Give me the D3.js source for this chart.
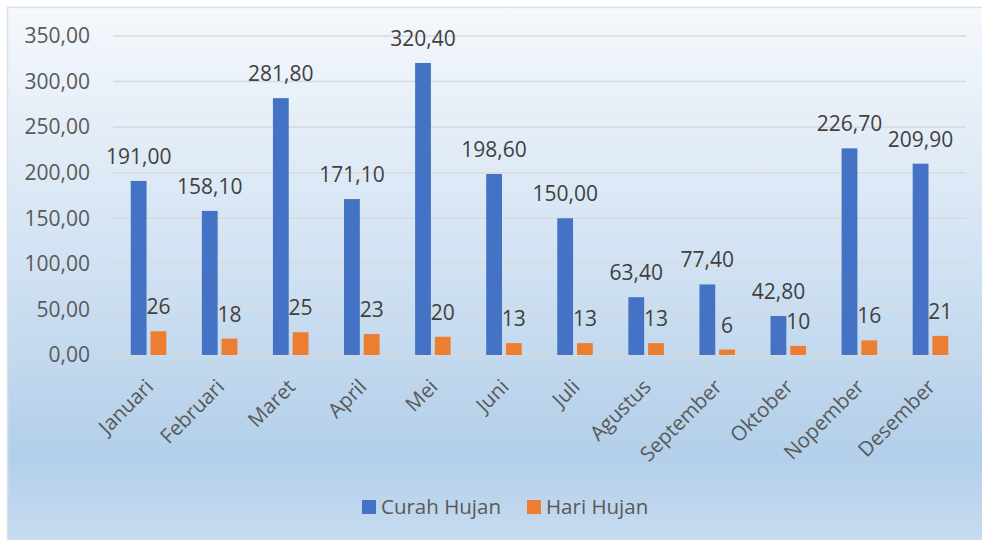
<!DOCTYPE html>
<html>
<head>
<meta charset="utf-8">
<script src="https://cdn.jsdelivr.net/npm/d3@7"></script>
<style>
  body { margin: 0; background: #fff; }
  text { font-family: "Open Sans", "Noto Sans", sans-serif; fill: #595959; }
</style>
</head>
<body>
<div id="chart"></div>
<script>
// data
var months = ["Januari", "Februari", "Maret", "April", "Mei", "Juni", "Juli",
  "Agustus", "September", "Oktober", "Nopember", "Desember"];
var curahHujan = [191.0, 158.1, 281.8, 171.1, 320.4, 198.6, 150.0, 63.4, 77.4, 42.8, 226.7, 209.9];
var hariHujan = [26, 18, 25, 23, 20, 13, 13, 13, 6, 10, 16, 21];
var yTicks = [0, 50, 100, 150, 200, 250, 300, 350];
var seriesNames = ["Curah Hujan", "Hari Hujan"];
var colors = ["#4472c4", "#ed7d31"];

var width = 982, height = 540;

var svg = d3.select("#chart").append("svg")
  .attr("width", width)
  .attr("height", height);

// background gradient
var grad = svg.append("defs").append("linearGradient")
  .attr("id", "bg").attr("x1", 0).attr("y1", 0).attr("x2", 0).attr("y2", 1);
grad.append("stop").attr("offset", "0%").attr("stop-color", "#f5f8fc");
grad.append("stop").attr("offset", "45%").attr("stop-color", "#d3e3f3");
grad.append("stop").attr("offset", "83%").attr("stop-color", "#b3cfe9");
grad.append("stop").attr("offset", "100%").attr("stop-color", "#c8dcf0");

svg.append("rect")
  .attr("x", 7.5).attr("y", 7.5)
  .attr("width", 990).attr("height", 540)
  .attr("fill", "url(#bg)")
  .attr("stroke", "#d6e2ef")
  .attr("stroke-width", 1.5);

var x0 = d3.scaleBand().domain(months).range([113, 966])
  .paddingInner(0.5).paddingOuter(0.25);
var x1 = d3.scaleBand().domain(seriesNames).range([0, x0.bandwidth()])
  .paddingInner(0.2);
var y = d3.scaleLinear().domain([0, 350]).range([355, 36]);

// gridlines
svg.append("g").selectAll("line")
  .data(yTicks)
  .enter().append("line")
  .attr("x1", 113).attr("x2", 966)
  .attr("y1", function (d) { return y(d); })
  .attr("y2", function (d) { return y(d); })
  .attr("stroke", "#d9d9d9")
  .attr("stroke-width", 1.5);

// y axis labels
svg.append("g").selectAll("text")
  .data(yTicks)
  .enter().append("text")
  .attr("x", 90)
  .attr("y", function (d) { return y(d); })
  .attr("dy", "0.35em")
  .attr("text-anchor", "end")
  .style("font-size", "21px")
  .text(function (d) { return d3.format(".2f")(d).replace(".", ","); });

var rows = months.map(function (m, i) {
  return { month: m, values: [curahHujan[i], hariHujan[i]] };
});

var groups = svg.append("g").selectAll("g")
  .data(rows)
  .enter().append("g")
  .attr("transform", function (d) { return "translate(" + x0(d.month) + ",0)"; });

groups.selectAll("rect")
  .data(function (d) { return d.values.map(function (v, j) { return { s: seriesNames[j], v: v, j: j }; }); })
  .enter().append("rect")
  .attr("x", function (d) { return x1(d.s); })
  .attr("y", function (d) { return y(d.v); })
  .attr("width", x1.bandwidth())
  .attr("height", function (d) { return y(0) - y(d.v); })
  .attr("fill", function (d) { return colors[d.j]; });

// data labels
groups.selectAll("text")
  .data(function (d) { return d.values.map(function (v, j) { return { s: seriesNames[j], v: v, j: j }; }); })
  .enter().append("text")
  .attr("x", function (d) { return x1(d.s) + x1.bandwidth() / 2; })
  .attr("y", function (d) { return y(d.v) - 17; })
  .attr("text-anchor", "middle")
  .style("font-size", "21px")
  .style("fill", "#404040")
  .text(function (d) {
    return d.j === 0 ? d3.format(".2f")(d.v).replace(".", ",") : d.v;
  });

// category labels
svg.append("g").selectAll("text")
  .data(months)
  .enter().append("text")
  .attr("transform", function (d) {
    return "translate(" + (x0(d) + x0.bandwidth() / 2 + 1) + ",383) rotate(-45)";
  })
  .attr("dy", "0.35em")
  .attr("text-anchor", "end")
  .style("font-size", "20.5px")
  .text(function (d) { return d; });

// legend
var legend = svg.append("g");
var legendX = [362, 527];
seriesNames.forEach(function (name, i) {
  legend.append("rect")
    .attr("x", legendX[i]).attr("y", 500)
    .attr("width", 14).attr("height", 14)
    .attr("fill", colors[i]);
  legend.append("text")
    .attr("x", legendX[i] + 19).attr("y", 507)
    .attr("dy", "0.35em")
    .style("font-size", "20.5px")
    .text(name);
});
</script>
</body>
</html>
